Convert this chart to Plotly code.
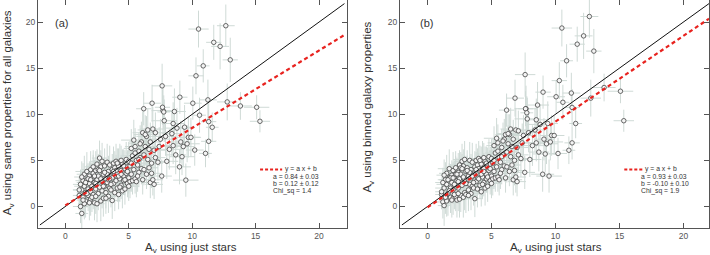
import plotly.graph_objects as go

# A_V using just stars (shared x values of the galaxies)
av_stars = [
    1.1,1.2,1.3,1.3,1.4,1.4,1.5,1.5,1.6,1.6,1.7,1.7,1.8,1.8,1.9,1.9,2.0,2.0,2.0,1.2,1.5,1.8,1.1,
    2.1,2.1,2.2,2.2,2.3,2.3,2.4,2.4,2.5,2.5,2.6,2.6,2.7,2.7,2.8,2.8,2.9,2.9,3.0,3.0,2.2,2.5,2.8,2.4,
    3.1,3.1,3.2,3.2,3.3,3.3,3.4,3.4,3.5,3.5,3.6,3.6,3.7,3.7,3.8,3.8,3.9,3.9,4.0,4.0,3.3,3.6,3.9,
    4.1,4.1,4.2,4.2,4.3,4.3,4.4,4.4,4.5,4.5,4.6,4.6,4.7,4.7,4.8,4.8,4.9,4.9,5.0,5.0,4.4,4.2,
    5.1,5.1,5.2,5.2,5.3,5.3,5.4,5.4,5.5,5.5,5.6,5.6,5.7,5.8,5.8,5.9,6.0,6.0,6.1,6.1,5.7,5.9,
    6.2,6.2,6.3,6.4,6.4,6.5,6.5,6.6,6.7,6.7,6.8,6.8,6.9,6.9,7.0,7.0,7.1,7.1,6.6,6.3,
    7.3,7.4,7.5,7.6,7.7,7.8,7.9,8.0,8.2,8.4,8.5,8.5,8.6,8.7,8.8,9.0,9.1,9.2,9.3,9.4,9.5,9.7,9.9,9.6,
    10.5,12.65,11.7,12.2,13.0,10.87,10.3,7.63,9.03,11.24,12.76,13.8,15.08,15.34,6.84,6.18,10.05,10.58,11.3,11.58,11.3,11.05,10.2,7.66,7.76,
    1.3,1.6,1.9,2.1,2.3,2.6,2.9,3.1,3.4,3.7,4.0,4.3,4.6,4.9,5.2,5.5,5.8,1.4,1.7,2.0,2.4,2.7,3.0,3.2,3.5,3.8,4.1,4.4,4.7,5.0,
]
# (a) A_V using same properties for all galaxies
av_same = [
    1.2,0.0,-0.75,1.8,2.8,1.0,2.2,3.5,1.5,0.6,2.9,3.8,1.9,1.2,2.5,3.3,0.8,1.6,4.0,2.4,0.3,3.0,1.8,
    2.2,3.0,1.3,3.6,0.4,2.6,1.9,3.9,0.3,2.9,1.4,3.3,5.25,2.1,0.6,4.3,2.7,1.7,3.5,0.9,4.3,4.6,3.0,2.5,
    2.2,4.4,1.5,3.0,4.8,2.6,1.1,3.8,2.0,4.5,3.2,1.8,0.65,4.0,2.5,4.7,3.4,1.5,2.8,4.9,3.5,2.4,4.2,
    3.6,2.0,4.4,1.3,3.0,4.8,2.3,3.9,1.7,4.6,3.3,2.8,4.1,1.9,3.6,5.1,2.5,4.3,3.1,4.9,5.0,3.3,
    2.7,4.4,3.5,6.3,5.5,2.8,7.2,4.0,6.5,3.0,5.0,2.7,4.5,6.0,3.7,5.3,4.1,7.0,2.9,8.0,3.3,6.8,
    5.6,4.0,6.5,7.6,3.5,5.1,8.3,6.2,2.6,7.0,4.7,3.6,8.4,2.9,6.1,2.4,5.3,8.0,4.2,7.8,
    4.8,6.5,7.3,3.3,10.4,9.3,7.6,4.9,6.2,7.9,9.0,6.6,10.3,5.6,8.5,4.3,7.0,5.4,6.5,8.6,2.86,7.5,7.5,6.8,
    19.24,19.6,17.8,17.36,15.9,15.25,14.17,13.08,11.85,11.56,11.34,10.9,10.76,9.24,11.2,10.6,11.2,9.9,9.2,8.59,7.07,5.76,6.12,10.76,10.25,
    3.2,2.6,0.4,1.0,3.3,4.0,4.9,3.7,2.9,3.1,3.9,2.1,4.4,3.8,4.7,5.8,5.1,0.7,1.4,2.9,1.1,3.9,2.2,0.9,3.0,3.8,4.7,3.5,2.9,2.2,
]
# (b) A_V using binned galaxy properties
av_binned = [
    1.3,0.5,0.1,2.0,2.9,1.1,2.4,3.6,1.4,0.8,3.1,4.1,2.0,1.0,2.6,3.4,0.9,1.8,3.9,2.6,0.6,3.1,1.6,
    2.4,3.2,1.1,3.5,0.7,2.8,2.0,3.7,0.8,3.0,1.2,3.5,4.9,2.3,1.0,4.4,2.9,1.5,3.8,1.3,4.2,4.5,3.2,2.7,
    2.5,4.2,1.8,3.3,5.0,2.4,1.4,4.0,2.2,4.8,3.5,2.0,0.85,4.3,2.7,5.0,3.1,1.9,3.0,5.2,3.7,2.6,4.5,
    3.8,2.3,4.6,1.6,3.2,5.1,2.6,4.1,2.0,4.9,3.5,3.0,4.4,2.2,3.9,5.4,2.8,4.6,3.3,5.2,5.3,3.5,
    3.0,4.7,3.8,6.6,5.8,3.1,7.4,4.3,6.9,3.2,5.3,2.9,4.8,6.4,4.0,5.6,4.4,7.3,3.1,7.8,3.6,7.1,
    5.9,4.3,6.8,7.8,3.8,5.4,8.4,6.5,2.9,7.3,5.0,3.9,8.3,3.2,6.4,2.7,5.6,8.2,4.5,7.9,
    5.2,6.9,7.7,3.7,10.6,9.5,8.0,5.1,6.6,8.3,9.4,6.9,11.0,5.9,8.9,3.5,7.3,5.7,6.8,9.0,3.3,7.7,7.7,7.0,
    19.35,20.6,17.6,18.5,16.85,15.8,13.65,14.3,12.4,12.3,11.75,12.9,12.5,9.3,11.75,10.45,11.9,11.3,10.74,9.0,6.9,6.1,5.75,10.6,10.16,
    3.4,2.9,0.7,1.3,3.5,4.2,5.1,3.9,3.1,3.4,4.1,2.4,4.7,4.1,5.0,6.0,5.4,1.0,1.7,3.1,1.4,4.1,2.5,1.2,3.3,4.0,5.0,3.8,3.2,2.5,
]
err_x = [
    0.5,0.6,0.5,0.7,0.6,0.5,0.8,0.6,0.7,0.5,0.6,0.9,0.5,0.7,0.6,0.8,0.5,0.6,0.7,0.6,0.5,0.7,0.5,
    0.6,0.7,0.5,0.8,0.6,0.7,0.5,0.9,0.6,0.7,0.5,0.8,0.6,0.7,0.6,0.8,0.5,0.7,0.9,0.6,0.7,0.8,0.6,0.5,
    0.7,0.6,0.8,0.5,0.7,0.9,0.6,0.7,0.8,0.6,0.7,0.5,0.6,0.8,0.7,0.6,0.9,0.5,0.7,0.8,0.6,0.7,0.8,
    0.6,0.8,0.7,0.5,0.9,0.7,0.6,0.8,0.7,0.6,0.9,0.7,0.8,0.6,0.7,0.9,0.6,0.8,0.7,1.0,0.6,0.7,
    0.8,0.7,0.9,0.6,0.8,0.7,1.0,0.6,0.8,0.9,0.7,0.6,0.8,0.9,0.7,0.8,0.6,1.0,0.7,0.8,0.6,0.9,
    0.8,0.7,0.9,0.8,0.7,1.0,0.8,0.9,0.7,0.8,0.9,0.7,1.0,0.8,0.9,0.7,0.8,1.0,0.7,0.9,
    0.9,0.8,1.0,0.8,0.9,1.0,0.8,0.9,1.0,0.8,0.9,1.0,0.9,0.8,1.0,0.9,0.8,1.0,0.9,0.8,1.0,0.9,0.8,1.0,
    0.8,0.7,0.6,0.7,0.6,0.5,0.6,0.8,0.6,0.7,0.8,0.9,1.0,0.8,0.7,0.6,0.7,0.5,0.6,0.5,0.6,0.5,0.7,0.6,0.5,
    0.6,0.7,0.5,0.8,0.6,0.7,0.9,0.6,0.7,0.8,0.6,0.7,0.8,0.6,0.9,0.7,0.8,0.5,0.6,0.7,0.5,0.8,0.6,0.7,0.8,0.6,0.9,0.7,0.6,0.8,
]
err_y = [
    1.6,1.8,2.2,1.5,1.9,1.4,1.7,2.0,1.5,1.8,1.6,2.1,1.4,1.7,1.9,1.6,1.8,1.5,2.0,1.6,1.7,1.5,1.4,
    1.5,1.8,1.6,2.0,1.9,1.5,1.7,2.1,2.0,1.6,1.8,1.7,1.9,1.5,2.2,1.8,1.6,1.9,1.7,2.0,1.8,1.6,1.5,1.7,
    1.6,1.9,1.7,1.5,2.0,1.6,1.8,1.7,1.5,2.1,1.6,1.9,2.0,1.7,1.5,1.8,1.6,2.0,1.7,1.9,1.6,1.5,1.8,
    1.7,1.5,1.9,1.6,1.8,2.0,1.5,1.7,1.9,1.6,1.8,1.5,2.0,1.7,1.6,1.9,1.5,1.8,1.7,2.1,1.6,1.8,
    1.8,1.6,1.9,2.1,1.7,1.5,2.2,1.8,2.0,1.6,1.9,1.7,1.8,2.0,1.6,1.9,1.7,2.2,1.6,2.3,1.7,2.0,
    1.9,1.7,2.0,2.2,1.6,1.8,2.3,2.0,1.7,2.1,1.8,1.6,2.4,1.7,2.0,1.6,1.9,2.2,1.8,2.1,
    2.0,2.1,2.2,1.8,2.5,2.3,2.1,1.9,2.2,2.4,2.3,2.0,2.5,2.1,2.2,1.9,2.3,2.0,2.2,2.4,1.8,2.2,2.1,2.0,
    2.0,2.3,1.9,2.5,2.4,1.8,2.0,2.4,1.8,2.2,2.0,1.5,1.3,1.2,2.0,1.8,1.8,1.9,2.0,1.6,1.8,1.5,1.7,1.9,1.8,
    1.7,1.5,1.9,1.6,1.8,1.7,2.0,1.6,1.5,1.9,1.7,1.6,1.8,2.0,1.7,1.9,1.6,1.8,1.5,1.7,1.9,1.6,1.8,1.7,1.5,1.9,1.6,1.8,1.7,1.6,
]

# one-to-one line and fits
one_to_one_x = [-2, 22]
fit_x = [0, 22]
fit_a = {"a": 0.84, "b": 0.12, "ea": 0.03, "eb": 0.12, "chi": 1.4}
fit_b = {"a": 0.93, "b": -0.10, "ea": 0.03, "eb": 0.10, "chi": 1.9}
y_titles = ["A<sub>v</sub> using same properties for all galaxies",
            "A<sub>v</sub> using binned galaxy properties"]
x_title = "A<sub>v</sub> using just stars"
panel_labels = ["(a)", "(b)"]
tick_vals = [0, 5, 10, 15, 20]

n = len(av_stars)
assert all(len(v) == n for v in (av_same, av_binned, err_x, err_y))

FONT = "Liberation Sans, Arial, sans-serif"
fig = go.Figure()

panels = [(av_same, fit_a, "x", "y"), (av_binned, fit_b, "x2", "y2")]
for i, (yv, fit, xa, ya) in enumerate(panels):
    fig.add_trace(go.Scatter(
        x=av_stars, y=yv, mode="markers", xaxis=xa, yaxis=ya,
        error_x=dict(type="data", array=err_x, color="#cfdad6", thickness=1, width=0),
        error_y=dict(type="data", array=err_y, color="#cfdad6", thickness=1, width=0),
        marker=dict(symbol="circle", size=4.5, color="#f4f4f4", line=dict(color="#444", width=0.8)),
        showlegend=False, hoverinfo="skip"))
    fig.add_trace(go.Scatter(
        x=one_to_one_x, y=one_to_one_x, mode="lines", xaxis=xa, yaxis=ya,
        line=dict(color="#111", width=1), showlegend=False, hoverinfo="skip"))
    fy = [fit["a"] * v + fit["b"] for v in fit_x]
    fig.add_trace(go.Scatter(
        x=fit_x, y=fy, mode="lines", xaxis=xa, yaxis=ya,
        line=dict(color="#e8231f", width=2.2, dash="4px,3px"), showlegend=False, hoverinfo="skip"))

    # legend key (decoration)
    kx0, kx1, tx, ax_ = (15.35, 17.09, 17.17, 16.2) if i == 0 else (15.38, 16.79, 16.82, 16.56)
    fig.add_shape(type="line", xref=xa, yref=ya, x0=kx0, x1=kx1, y0=4.02, y1=4.02,
                  line=dict(color="#e8231f", width=2, dash="3px,2px"))
    lines = [("y = a x + b", tx, 4.02),
             ("a = %.2f ± %.2f" % (fit["a"], fit["ea"]), ax_, 3.22),
             ("b = %.2f ± %.2f" % (fit["b"], fit["eb"]), ax_, 2.46),
             ("Chi_sq = %.1f" % fit["chi"], ax_, 1.70)]
    for txt, x0, y0 in lines:
        fig.add_annotation(text=txt, x=x0, y=y0, xref=xa, yref=ya, xanchor="left", yanchor="middle",
                           showarrow=False, font=dict(size=6.8, color="#333", family=FONT))
    fig.add_annotation(text=panel_labels[i], x=-0.95 if i == 0 else -0.75, y=19.9, xref=xa, yref=ya,
                       xanchor="left", yanchor="middle", showarrow=False,
                       font=dict(size=11, color="#333", family=FONT))

# axis titles
tfont = dict(size=11.5, color="#333", family=FONT)
fig.add_annotation(text=x_title, x=0.269, y=0.026, xref="paper", yref="paper", showarrow=False,
                   xanchor="center", yanchor="middle", font=tfont)
fig.add_annotation(text=x_title, x=0.7835, y=0.026, xref="paper", yref="paper", showarrow=False,
                   xanchor="center", yanchor="middle", font=tfont)
fig.add_annotation(text=y_titles[0], x=0.0115, y=0.557, xref="paper", yref="paper", showarrow=False,
                   textangle=-90, xanchor="center", yanchor="middle", font=tfont)
fig.add_annotation(text=y_titles[1], x=0.519, y=0.58, xref="paper", yref="paper", showarrow=False,
                   textangle=-90, xanchor="center", yanchor="middle", font=tfont)

ax_common = dict(showgrid=False, zeroline=False, showline=True, linecolor="#555", linewidth=1,
                 mirror="ticks", ticks="inside", ticklen=5, tickcolor="#555", tickwidth=1,
                 tickvals=tick_vals, tickfont=dict(size=8.5, color="#555", family=FONT))
ydom = [27 / 255, 1.0]
fig.update_layout(
    width=710, height=255, margin=dict(l=0, r=0, t=0, b=0),
    paper_bgcolor="white", plot_bgcolor="white",
    xaxis=dict(domain=[38 / 710, 347 / 710], range=[-2.15, 22.2], anchor="y", **ax_common),
    yaxis=dict(domain=ydom, range=[-2.33, 22.39], anchor="x", **ax_common),
    xaxis2=dict(domain=[400 / 710, 709 / 710], range=[-2.15, 22.0], anchor="y2", **ax_common),
    yaxis2=dict(domain=ydom, range=[-2.33, 22.39], anchor="x2", **ax_common),
)
fig.write_html("out.html", config={"displayModeBar": False},
               post_script="document.body.style.margin='0';document.body.style.overflow='hidden';")
